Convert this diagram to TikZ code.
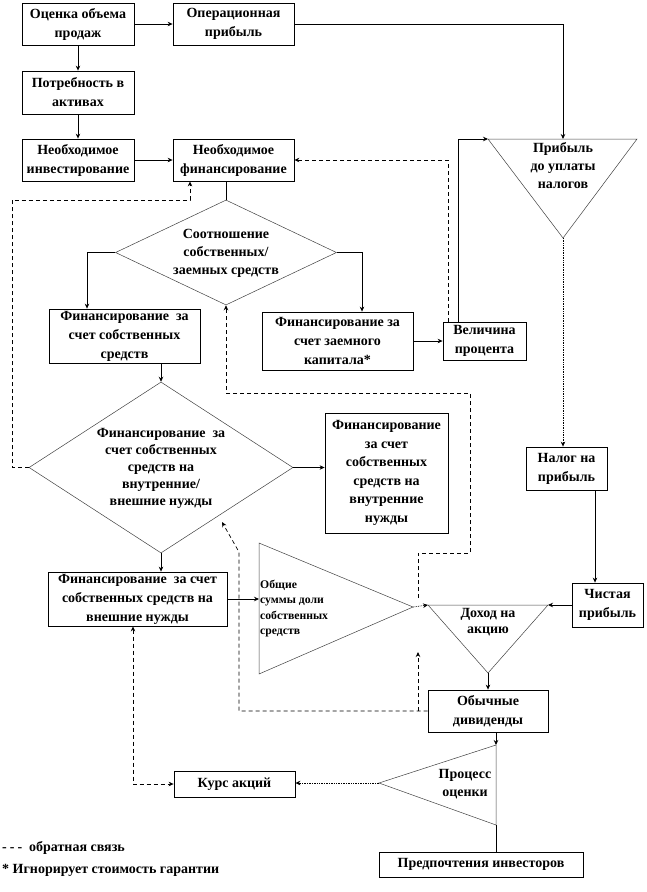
\documentclass[tikz,border=0pt]{standalone}
\usepackage{fontspec}
\setmainfont{Liberation Serif}
\usetikzlibrary{arrows.meta,shapes.geometric,calc}
\begin{document}
\begin{tikzpicture}[x=1pt,y=-1pt,
  box/.style={draw, line width=0.8pt, inner sep=0pt, align=center, font=\fontsize{14}{19}\selectfont\bfseries},
  shp/.style={draw=black!75, line width=0.5pt},
  arr/.style={-{Stealth[length=5pt,width=4.5pt]}, line width=0.7pt},
  fb/.style={dash pattern=on 4pt off 3pt, line width=0.7pt},
  dotl/.style={densely dotted, line width=0.8pt},
  lbl/.style={align=center, inner sep=0pt, font=\fontsize{14}{18}\selectfont\bfseries},
]
\useasboundingbox (0,0) rectangle (646,892);

% boxes
\node[box, minimum width=112pt, minimum height=42pt] (sales) at (78,24) {Оценка объема\\продаж};
\node[box, minimum width=121pt, minimum height=42pt] (oper) at (233.5,24) {Операционная\\прибыль};
\node[box, minimum width=112pt, minimum height=43pt] (need) at (78,92.5) {Потребность в\\активах};
\node[box, minimum width=112pt, minimum height=42pt] (inv) at (78,160) {Необходимое\\инвестирование};
\node[box, minimum width=121pt, minimum height=42pt] (fin) at (233.5,160) {Необходимое\\финансирование};
\node[diamond, shp, minimum width=221pt, minimum height=105pt, inner sep=0pt] (d1) at (226,252.5) {};
\node[lbl] (d1t) at (226,253) {Соотношение\\собственных/\\заемных средств};
\node[box, minimum width=151pt, minimum height=54pt] (own) at (124.5,336) {Финансирование\ \ за\\счет собственных\\средств};
\node[box, minimum width=151pt, minimum height=58pt] (debt) at (337.5,341) {Финансирование за\\счет заемного\\капитала*};
\node[box, minimum width=83pt, minimum height=38pt] (rate) at (484.5,341) {Величина\\процента};
\node[diamond, shp, minimum width=264pt, minimum height=171pt, inner sep=0pt] (d2) at (161,467.5) {};
\node[lbl, font=\fontsize{14}{17}\selectfont\bfseries] (d2t) at (161,468) {Финансирование\ \ за\\счет собственных\\средств на\\внутренние/\\внешние нужды};
\node[box, minimum width=123pt, minimum height=120pt, font=\fontsize{14}{18.5}\selectfont\bfseries] (inner) at (386.5,473) {Финансирование\\за счет\\собственных\\средств на\\внутренние\\нужды};
\node[box, minimum width=179pt, minimum height=54pt] (outer) at (137.5,599) {Финансирование\ \ за счет\\собственных средств на\\внешние нужды};
\node[box, minimum width=81pt, minimum height=43pt] (tax) at (566.5,468.5) {Налог на\\прибыль};
\node[box, minimum width=71pt, minimum height=44pt] (net) at (607.5,605) {Чистая\\прибыль};
\node[box, minimum width=120pt, minimum height=42pt] (div) at (488,711) {Обычные\\дивиденды};
\node[box, minimum width=121pt, minimum height=26pt] (price) at (234.5,784) {Курс акций};
\node[box, minimum width=204pt, minimum height=25pt] (pref) at (481,864.5) {Предпочтения инвесторов};

% triangles
\coordinate (p1) at (488,139); \coordinate (p2) at (637,139); \coordinate (p3) at (563,238); \coordinate (ptop) at (563,139);
\draw[shp] (p1) -- (p2) -- (p3) -- cycle;
\node[lbl] (ptxt) at (563,166) {Прибыль\\до уплаты\\налогов};

\coordinate (o1) at (259,543); \coordinate (o2) at (259,674); \coordinate (o3) at (413,607); \coordinate (oin) at (259,599);
\draw[shp] (o1) -- (o3) -- (o2) -- cycle;
\node[lbl, align=left, anchor=west, font=\fontsize{11.7}{15.5}\selectfont\bfseries] (otxt) at (260,608.5) {Общие\\суммы доли\\собственных\\средств};

\coordinate (t1) at (428,605); \coordinate (t2) at (548,605); \coordinate (t3) at (488,673);
\draw[shp] (t1) -- (t2) -- (t3) -- cycle;
\node[lbl, font=\fontsize{14}{15.5}\selectfont\bfseries] (ttxt) at (488,622) {Доход на\\акцию};

\coordinate (q1) at (379,783); \coordinate (q2) at (496,745); \coordinate (q3) at (496,825);
\draw[shp] (q1) -- (q2) -- (q3) -- cycle;
\node[lbl] (qtxt) at (465,784) {Процесс\\оценки};

% connectors
\draw[arr] (sales.east) -- (oper.west);
\draw[arr] (sales.south) -- (need.north);
\draw[arr] (need.south) -- (inv.north);
\draw[arr] (inv.east) -- (fin.west);
\draw[arr] (oper.east) -| (ptop);
\draw[line width=0.7pt] (d1.north |- fin.south) -- (d1.north);
\draw[arr] (d1.west) -| ([xshift=-37.5pt]own.north);
\draw[arr] (d1.east) -| ([xshift=24.5pt]debt.north);
\draw[arr] (debt.east) -- (rate.west);
\draw[arr] ([xshift=-26.5pt]rate.north) |- (p1);
\draw[fb,arr] ([xshift=-36.5pt]rate.north) |- (fin.east);
\draw[arr] (own.south -| d2.north) -- (d2.north);
\draw[arr] (d2.east) -- (d2.east -| inner.west);
\draw[arr] (d2.south) -- (d2.south |- outer.north);
\draw[fb,arr] (d2.west) -| (12,200) -| ([xshift=-43.5pt]fin.south);
\draw[dotl,arr] (p3) -- (p3 |- tax.north);
\draw[arr] ([xshift=28.5pt]tax.south) -- ([xshift=28.5pt]tax.south |- net.north);
\draw[arr] (net.west) -- (t2);
\draw[dotl,arr] (o3) -- (t1);
\draw[arr] (outer.east) -- (oin);
\draw[arr] (t3) -- (div.north);
\draw[arr] ([xshift=8pt]div.south) -- (q2);
\draw[dotl,arr] (q1) -- (q1 -| price.east);
\draw[line width=0.7pt] (q3) -- (q3 |- pref.north);
\draw[fb,{Stealth[length=5pt,width=4.5pt]}-{Stealth[length=5pt,width=4.5pt]}] ([xshift=-4.5pt]outer.south) |- (price.west);
\draw[fb,arr] (418,598) -- (418,553) -- (470,553) -- (470,393) -| (d1.south);
\draw[fb,arr] (div.west) -| (239,552) -- (222,522);
\draw[fb,arr] (418,711) -- (418,652);

% legend
\node[lbl, anchor=west] (leg1) at (2,848) {-\hspace{3pt}-\hspace{3pt}-\ \ обратная связь};
\node[lbl, anchor=west] (leg2) at (2,870) {* Игнорирует стоимость гарантии};
\end{tikzpicture}
\end{document}
